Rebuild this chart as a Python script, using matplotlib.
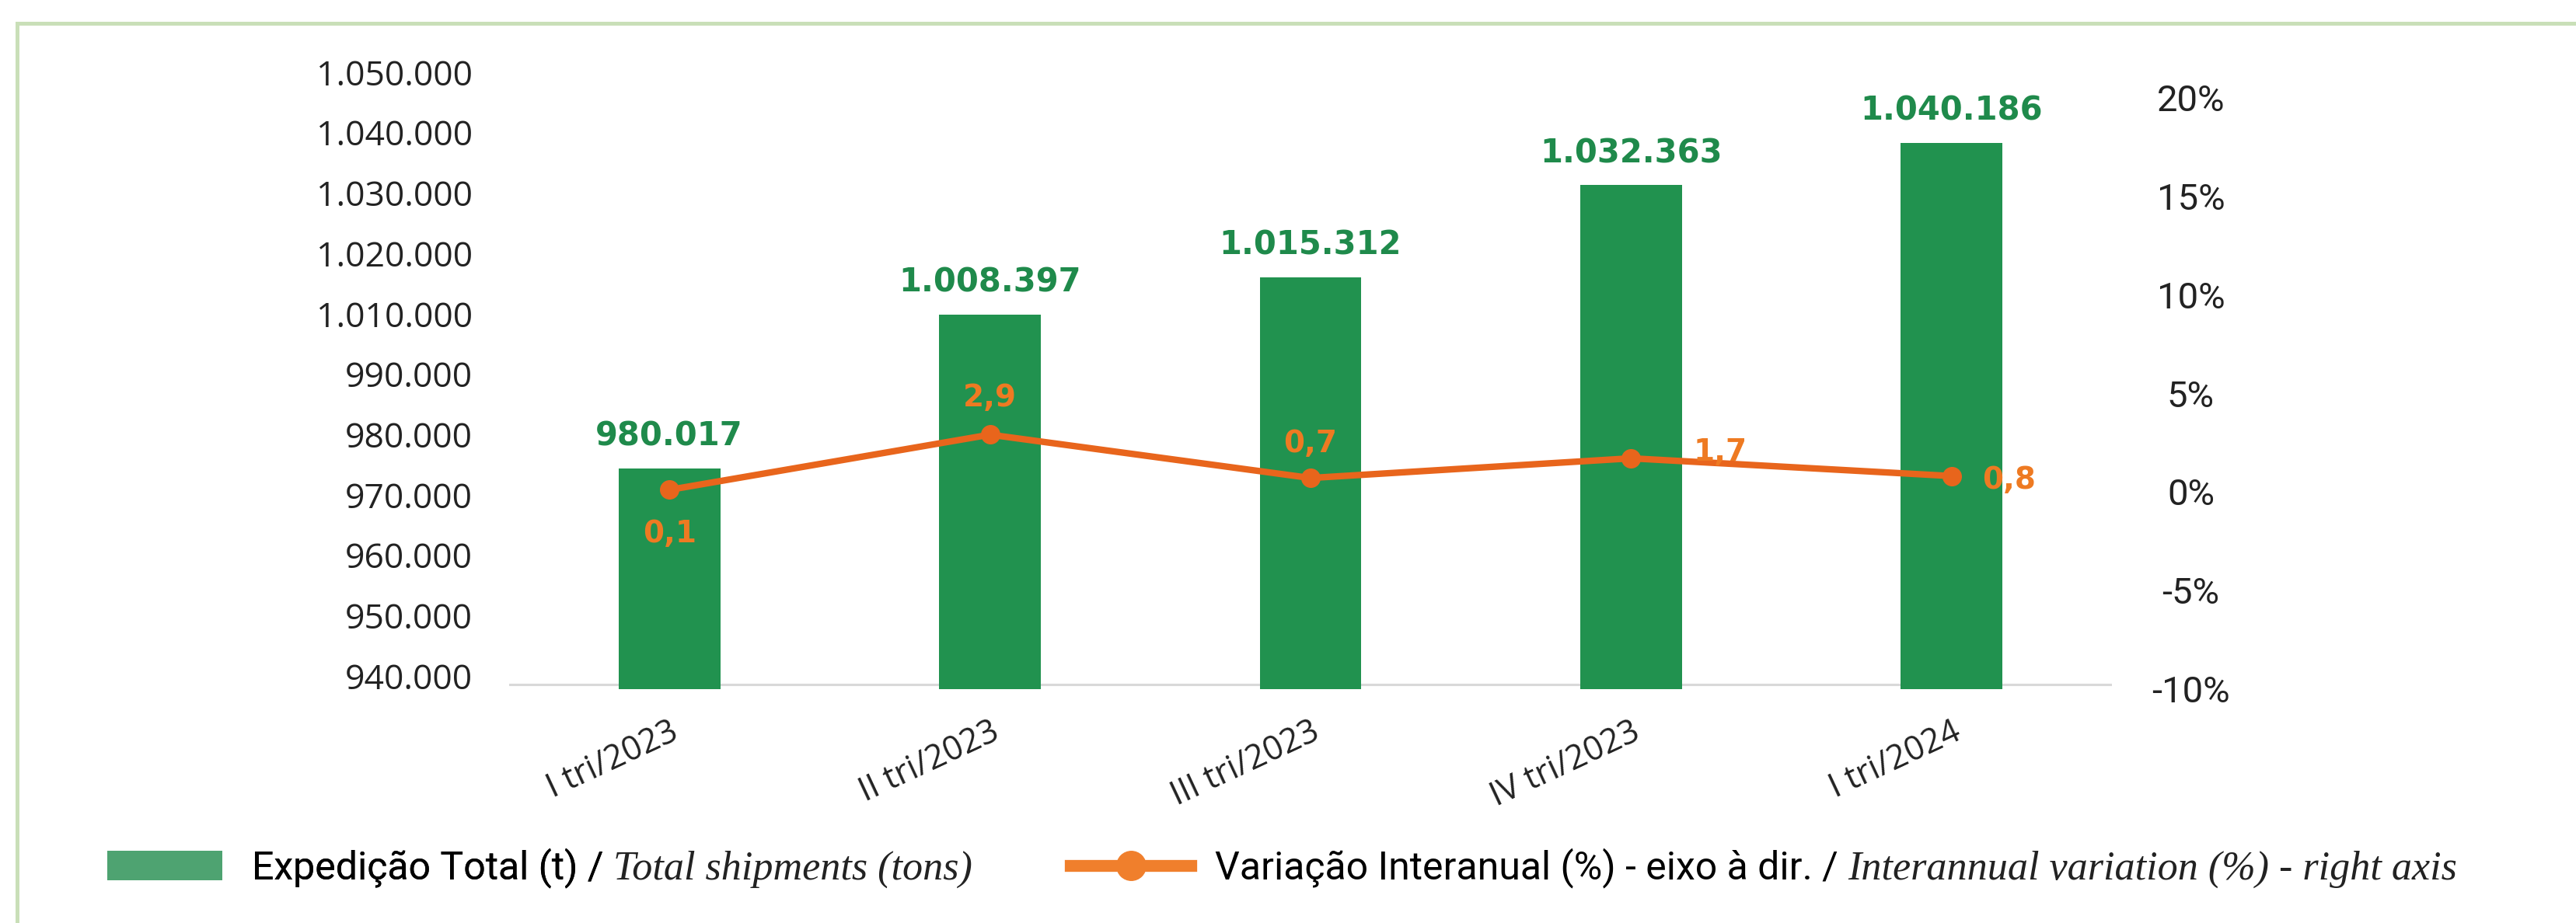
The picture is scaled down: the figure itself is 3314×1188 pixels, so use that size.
import numpy as np
import matplotlib
matplotlib.use('Agg')
import matplotlib.pyplot as plt
from matplotlib.patches import Patch
from matplotlib.lines import Line2D

# data
quarters = ['I tri/2023', 'II tri/2023', 'III tri/2023', 'IV tri/2023', 'I tri/2024']
shipments = [980017, 1008397, 1015312, 1032363, 1040186]
variation = [0.1, 2.9, 0.7, 1.7, 0.8]
left_labels = ['940.000', '950.000', '960.000', '970.000', '980.000', '990.000',
               '1.010.000', '1.020.000', '1.030.000', '1.040.000', '1.050.000']
right_ticks = [-10, -5, 0, 5, 10, 15, 20]

GREEN = '#21924f'
GREEN_TXT = '#1f8a4b'
ORANGE = '#e8651c'
ORANGE_TXT = '#ee7a22'

W, H = 3314, 1188
fig = plt.figure(figsize=(W / 100, H / 100), dpi=100)
fig.patch.set_facecolor('white')

# light green frame (left and top only)
fig.add_artist(Line2D([22 / W, 22 / W], [0, 1 - 30 / H], color='#c9dfb8', lw=3.6))
fig.add_artist(Line2D([22 / W, 1], [1 - 30 / H, 1 - 30 / H], color='#c9dfb8', lw=3.6))

ax = fig.add_axes([655 / W, 1 - 887 / H, (2717 - 655) / W, (887 - 93) / H])
x = np.arange(len(quarters))

ax.bar(x, shipments, width=0.317, color=GREEN, zorder=2)
ax.axhline(940000, color='#d9d9d9', lw=2.2, zorder=1)
ax.set_xlim(-0.5, 4.5)
ax.set_ylim(939138, 1053233)
ax.set_yticks(np.linspace(941581, 1053233, len(left_labels)), left_labels)
for s in ax.spines.values():
    s.set_visible(False)
ax.tick_params(axis='y', length=0, pad=34, labelsize=32, labelcolor='#222222')
for t in ax.get_yticklabels():
    t.set_fontfamily('Open Sans')
ax.set_xticks(x, quarters)
ax.tick_params(axis='x', length=0, pad=24)
for t in ax.get_xticklabels():
    t.set_fontfamily('Open Sans')
    t.set_fontsize(31)
    t.set_rotation(25)
    t.set_ha('right')
    t.set_rotation_mode('anchor')
    t.set_color('#222222')

for xi, v in zip(x, shipments):
    ax.annotate(f'{v:,}'.replace(',', '.'), (xi, v), xytext=(0, 21), textcoords='offset points',
                ha='center', va='baseline', fontsize=30, fontweight='bold',
                color=GREEN_TXT, family='DejaVu Sans')

ax2 = ax.twinx()
ax2.set_ylim(-10.02, 21.3)
ax2.set_yticks(right_ticks, [f'{v}%' for v in right_ticks])
for s in ax2.spines.values():
    s.set_visible(False)
ax2.tick_params(axis='y', length=0, pad=73, labelsize=34, labelcolor='#222222')
for t in ax2.get_yticklabels():
    t.set_fontfamily('Roboto')
    t.set_ha('center')

ax2.plot(x, variation, color=ORANGE, lw=6, marker='o', ms=17, zorder=3)

# label placement: offsets in points
offsets = [(0, -41), (0, 34), (0, 32), (58, 6), (28, -4)]
aligns = ['center', 'center', 'center', 'left', 'left']
for xi, v, off, ha in zip(x, variation, offsets, aligns):
    ax2.annotate(f'{v:.1f}'.replace('.', ','), (xi, v), xytext=off, textcoords='offset points',
                 ha=ha, va='center', fontsize=28, fontweight='bold',
                 color=ORANGE_TXT, family='DejaVu Sans')

# legend, built as two single-entry legends with italic English text appended
leg_y = 1 - 1117 / H
leg1 = fig.legend([Patch(facecolor='#4ea371')], ['Expedição Total (t) /'],
                  loc='center left', bbox_to_anchor=(138 / W, leg_y), frameon=False,
                  borderpad=0, borderaxespad=0, handlelength=2.95, handleheight=0.77,
                  handletextpad=0.78, prop={'family': 'Roboto', 'size': 36})
fig.add_artist(leg1)
leg2 = fig.legend([Line2D([], [], color='#f07f2c', lw=11, marker='o', ms=27)],
                  ['Variação Interanual (%) - eixo à dir. /'],
                  loc='center left', bbox_to_anchor=(1377 / W, leg_y), frameon=False,
                  borderpad=0, borderaxespad=0, handlelength=3.1,
                  handletextpad=0.62, prop={'family': 'Roboto', 'size': 36})

italics = ['Total shipments (tons)', 'Interannual variation (%) - right axis']
fig.canvas.draw()
r = fig.canvas.get_renderer()
for leg, txt in zip([leg1, leg2], italics):
    bb = leg.get_texts()[0].get_window_extent(r)
    fig.text(bb.x1 + 12, bb.y0, txt, transform=None, ha='left', va='bottom',
             fontsize=37.5, family='Liberation Serif', style='italic', color='#222222')

fig.savefig('out.png', dpi=100, facecolor='white')
